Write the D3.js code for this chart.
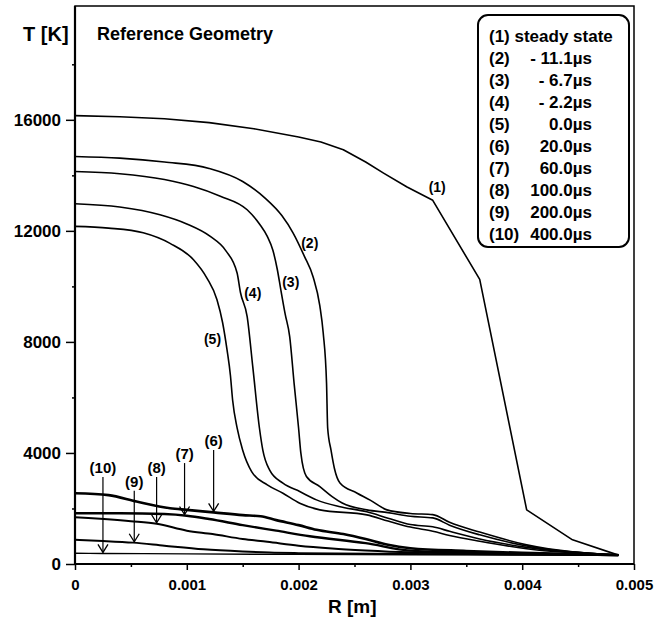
<!DOCTYPE html>
<html>
<head>
<meta charset="utf-8">
<script src="https://cdn.jsdelivr.net/npm/d3@7"></script>
<style>
  body { margin: 0; background: #fff; }
  text { font-family: "Liberation Sans", Arial, sans-serif; font-weight: bold; fill: #000; }
</style>
</head>
<body>
<div id="graph"></div>
<script>
// temperature profiles T(R)

var curve1 = [[0,16150],[0.0004,16110],[0.0008,16040],[0.0012,15900],[0.0016,15680],[0.002,15380],[0.0022,15200],
  [0.0024,14920],[0.0026,14480],[0.00276,14080],[0.00297,13580],[0.0032,13100],[0.00362,10250],[0.00404,1950],
  [0.00445,870],[0.00486,320]];
var curve2 = [[0,14680],[0.0004,14620],[0.0008,14480],[0.0012,14250],[0.0015,13780],[0.0017,13180],[0.00185,12550],
  [0.00195,11930],[0.00205,11100],[0.00213,10340],[0.00219,9300],[0.00222,8330],[0.00225,6500],[0.00226,4900],
  [0.00229,4100],[0.00232,3450],[0.00237,2920],[0.00252,2560],[0.00264,2300],[0.00279,1950],[0.003,1820],
  [0.0032,1780],[0.00335,1500],[0.00362,1150],[0.00404,690],[0.00486,320]];
var curve3 = [[0,14140],[0.0004,14060],[0.0008,13850],[0.00106,13600],[0.0013,13250],[0.00154,12760],[0.00165,12250],
  [0.00172,11800],[0.00177,11300],[0.00181,10600],[0.00184,9900],[0.00188,9000],[0.00192,8200],[0.00196,6500],
  [0.002,4890],[0.00202,4000],[0.00207,3150],[0.00219,2790],[0.0023,2430],[0.00239,2200],[0.00261,1950],
  [0.0028,1850],[0.003,1720],[0.0032,1660],[0.00335,1400],[0.00362,1050],[0.00404,650],[0.00486,320]];
var curve4 = [[0,12975],[0.0004,12860],[0.00076,12580],[0.001,12250],[0.00121,11800],[0.00135,11280],[0.00145,10480],
  [0.00148,9780],[0.00154,8910],[0.00159,7110],[0.00165,4890],[0.00168,4100],[0.00174,3390],
  [0.00186,2910],[0.00201,2610],[0.00216,2310],[0.00236,2070],[0.00261,1880],[0.0028,1650],[0.003,1420],
  [0.0032,1340],[0.00335,1180],[0.00362,900],[0.00404,600],[0.00486,320]];
var curve5 = [[0,12160],[0.0003,12100],[0.00061,11930],[0.00085,11550],[0.00106,10960],[0.00118,10300],[0.00127,9520],
  [0.00132,8700],[0.00136,7710],[0.00139,6800],[0.00141,5900],[0.00145,4900],[0.0015,4100],[0.00158,3330],
  [0.00172,2850],[0.00186,2550],[0.00201,2190],[0.00219,1950],[0.00261,1770],[0.0028,1550],[0.003,1330],
  [0.0032,1180],[0.00335,1030],[0.00362,820],[0.00404,550],[0.00486,320]];
var curve6 = [[0,2550],[0.0003,2480],[0.00055,2250],[0.00085,2010],[0.001,1950],[0.00124,1860],[0.0015,1760],
  [0.00166,1720],[0.0018,1580],[0.002,1400],[0.00216,1230],[0.0024,1080],[0.0026,900],[0.0028,690],[0.003,570],
  [0.0035,470],[0.004,400],[0.00486,320]];
var curve7 = [[0,1830],[0.0004,1830],[0.0008,1800],[0.001,1740],[0.0012,1620],[0.0015,1400],[0.0018,1200],
  [0.0021,1000],[0.0026,750],[0.003,480],[0.0035,410],[0.004,370],[0.00486,320]];
var curve8 = [[0,1680],[0.0005,1540],[0.00073,1450],[0.001,1200],[0.00123,1080],[0.0015,900],[0.00172,800],
  [0.002,660],[0.0023,560],[0.0026,490],[0.003,420],[0.0035,380],[0.004,350],[0.00486,320]];
var curve9 = [[0,870],[0.00025,830],[0.00052,770],[0.0008,660],[0.00115,530],[0.0015,450],[0.00174,410],
  [0.002,390],[0.003,360],[0.004,340],[0.00486,320]];
var curve10 = [[0,385],[0.00025,380],[0.001,365],[0.002,345],[0.003,335],[0.004,325],[0.00486,320]];

var curves = [curve1, curve2, curve3, curve4, curve5, curve6, curve7, curve8, curve9, curve10];

var legendNums = ["(1) steady state", "(2)", "(3)", "(4)", "(5)", "(6)", "(7)", "(8)", "(9)", "(10)"];
var legendTimes = ["", "- 11.1\u00b5s", "- 6.7\u00b5s", "- 2.2\u00b5s", "0.0\u00b5s",
  "20.0\u00b5s", "60.0\u00b5s", "100.0\u00b5s", "200.0\u00b5s", "400.0\u00b5s"];

var xTicks = [0, 0.001, 0.002, 0.003, 0.004, 0.005];
var yTicks = [0, 4000, 8000, 12000, 16000];

// labels (1)-(5) sit next to their curves, in data units
var lineLabels = [
  {"label": "(1)", "r": 0.00324, "t": 13560},
  {"label": "(2)", "r": 0.0021, "t": 11570},
  {"label": "(3)", "r": 0.00193, "t": 10160},
  {"label": "(4)", "r": 0.00159, "t": 9770},
  {"label": "(5)", "r": 0.00123, "t": 8110}
];
// arrows for (6)-(10): label height and the R where they point
var arrowLabels = [
  {"label": "(6)", "curve": 5, "r": 0.00124, "t": 4430},
  {"label": "(7)", "curve": 6, "r": 0.00098, "t": 3960},
  {"label": "(8)", "curve": 7, "r": 0.00073, "t": 3460},
  {"label": "(9)", "curve": 8, "r": 0.00053, "t": 2960},
  {"label": "(10)", "curve": 9, "r": 0.00025, "t": 3460}
];

var width = 670, height = 618,
    margin = {"top": 6, "right": 36, "bottom": 54, "left": 75};

var svg = d3.select("#graph").append("svg")
    .attr("width", width)
    .attr("height", height);

var x = d3.scaleLinear().domain([0, 0.005]).range([margin.left, width - margin.right]);
var y = d3.scaleLinear().domain([0, 20100]).range([height - margin.bottom, margin.top]);

// frame
svg.append("rect")
    .attr("x", x(0)).attr("y", y(20100))
    .attr("width", x(0.005) - x(0)).attr("height", y(0) - y(20100))
    .attr("fill", "none").attr("stroke", "#000").attr("stroke-width", 1.5);

// minor ticks
var yAxisMinor = svg.append("g")
    .attr("transform", "translate(" + x(0) + ",0)")
    .call(d3.axisLeft(y).tickValues(d3.range(2000, 20000, 4000)).tickSize(3).tickFormat(""));
var xAxisMinor = svg.append("g")
    .attr("transform", "translate(0," + y(0) + ")")
    .call(d3.axisBottom(x).tickValues([0.0005, 0.0015, 0.0025, 0.0035, 0.0045]).tickSize(3).tickFormat(""));

var yAxis = svg.append("g")
    .attr("transform", "translate(" + x(0) + ",0)")
    .call(d3.axisLeft(y).tickValues(yTicks).tickSize(9).tickPadding(5).tickFormat(d3.format("d")));
var xAxis = svg.append("g")
    .attr("transform", "translate(0," + y(0) + ")")
    .call(d3.axisBottom(x).tickValues(xTicks).tickSize(6).tickPadding(9)
      .tickFormat(function(d) { return d === 0 ? "0" : d3.format(".3f")(d); }));

[yAxisMinor, xAxisMinor, yAxis, xAxis].forEach(function(g) {
  g.select(".domain").remove();
  g.selectAll(".tick line").attr("stroke", "#000").attr("stroke-width", 1.5);
});
yAxis.selectAll(".tick text").style("font-size", "17px");
xAxis.selectAll(".tick text").style("font-size", "15px");

// axis lines drawn a bit heavier
svg.append("line").attr("x1", x(0)).attr("x2", x(0)).attr("y1", y(0)).attr("y2", y(20100))
    .attr("stroke", "#000").attr("stroke-width", 2.2);
svg.append("line").attr("x1", x(0)).attr("x2", x(0.005)).attr("y1", y(0)).attr("y2", y(0))
    .attr("stroke", "#000").attr("stroke-width", 2.2);

svg.append("text").attr("x", 23).attr("y", 41).style("font-size", "20px").text("T [K]");
svg.append("text").attr("x", 97).attr("y", 40).style("font-size", "18px").text("Reference Geometry");
svg.append("text").attr("x", 328).attr("y", 613).style("font-size", "19px").text("R [m]");

// curves
var line = d3.line()
    .x(function(d) { return x(d[0]); })
    .y(function(d) { return y(d[1]); })
    .curve(d3.curveMonotoneX);
var widths = [1.6, 1.6, 1.6, 1.6, 1.6, 2.6, 2.4, 2, 2, 1.4];

svg.selectAll(".curve")
    .data(curves)
  .enter().append("path")
    .attr("class", "curve")
    .attr("d", function(d, i) { return i === 0 ? line.curve(d3.curveLinear)(d) : line.curve(d3.curveMonotoneX)(d); })
    .attr("fill", "none")
    .attr("stroke", "#000")
    .attr("stroke-width", function(d, i) { return widths[i]; })
    .attr("stroke-linejoin", "round");

svg.selectAll(".linelabel")
    .data(lineLabels)
  .enter().append("text")
    .attr("class", "linelabel")
    .attr("x", function(d) { return x(d.r); })
    .attr("y", function(d) { return y(d.t); })
    .attr("dy", "0.35em")
    .attr("text-anchor", "middle")
    .style("font-size", "14px")
    .text(function(d) { return d.label; });

// value of a curve at R, linear between read points
function tAt(c, r) {
  var i = d3.bisector(function(d) { return d[0]; }).left(c, r);
  if (i <= 0) return c[0][1];
  var a = c[i - 1], b = c[i];
  return a[1] + (b[1] - a[1]) * (r - a[0]) / (b[0] - a[0]);
}

var arrows = svg.selectAll(".arrow")
    .data(arrowLabels)
  .enter().append("g")
    .attr("class", "arrow");

arrows.append("text")
    .attr("x", function(d) { return x(d.r); })
    .attr("y", function(d) { return y(d.t); })
    .attr("dy", "0.35em")
    .attr("text-anchor", "middle")
    .style("font-size", "15px")
    .text(function(d) { return d.label; });

arrows.append("line")
    .attr("x1", function(d) { return x(d.r); })
    .attr("x2", function(d) { return x(d.r); })
    .attr("y1", function(d) { return y(d.t) + 9; })
    .attr("y2", function(d) { return y(tAt(curves[d.curve], d.r)) - 1; })
    .attr("stroke", "#000").attr("stroke-width", 1.2);

arrows.append("path")
    .attr("d", function(d) {
      var px = x(d.r), py = y(tAt(curves[d.curve], d.r)) - 1;
      return "M" + (px - 5) + "," + (py - 8) + "L" + px + "," + py + "L" + (px + 5) + "," + (py - 8);
    })
    .attr("fill", "none").attr("stroke", "#000").attr("stroke-width", 1.3);

// legend
var legend = svg.append("g");
legend.append("rect")
    .attr("x", 478).attr("y", 15).attr("width", 151).attr("height", 232).attr("rx", 10)
    .attr("fill", "#fff").attr("stroke", "#000").attr("stroke-width", 2);

legend.selectAll(".num")
    .data(legendNums)
  .enter().append("text")
    .attr("class", "num")
    .attr("x", 489)
    .attr("y", function(d, i) { return 42 + i * 22; })
    .style("font-size", "17px")
    .text(function(d) { return d; });

legend.selectAll(".time")
    .data(legendTimes)
  .enter().append("text")
    .attr("class", "time")
    .attr("x", 592)
    .attr("y", function(d, i) { return 42 + i * 22; })
    .attr("text-anchor", "end")
    .style("font-size", "17px")
    .text(function(d) { return d; });
</script>
</body>
</html>
